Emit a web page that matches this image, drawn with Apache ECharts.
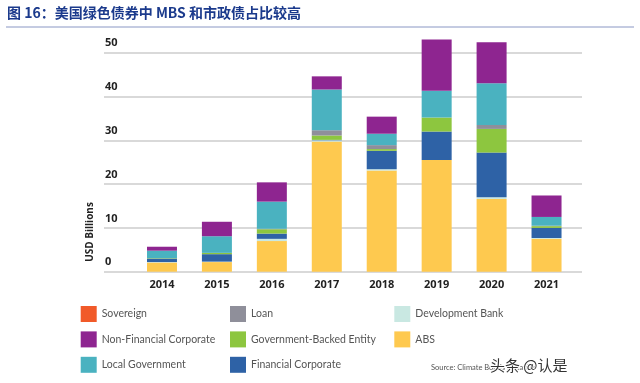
<!DOCTYPE html>
<html>
<head>
<meta charset="utf-8">
<script src="https://cdn.jsdelivr.net/npm/echarts@6/dist/echarts.min.js"></script>
<style>html,body{margin:0;padding:0;background:#fff}#c{width:640px;height:383px}</style>
</head>
<body>
<div id="c"></div>
<script>
var years = ['2014','2015','2016','2017','2018','2019','2020','2021'];
var yTicks = [0,10,20,30,40,50];
var abs      = [2.1, 2.2, 7.0, 29.7, 23.1, 25.5, 16.6, 7.5];
var devBank  = [0.1, 0.1, 0.5, 0.3, 0.3, 0.0, 0.4, 0.2];
var finCorp  = [0.8, 1.7, 1.2, 0.1, 4.2, 6.5, 10.2, 2.3];
var govBack  = [0.1, 0.3, 1.0, 1.0, 0.4, 3.2, 5.4, 0.4];
var loan     = [0.0, 0.0, 0.1, 1.2, 0.9, 0.0, 0.9, 0.1];
var localGov = [1.7, 3.8, 6.2, 9.3, 2.6, 6.1, 9.5, 2.0];
var nonFin   = [0.9, 3.3, 4.4, 3.0, 3.9, 11.7, 9.4, 4.9];
var sovereign= [0, 0, 0, 0, 0, 0, 0, 0];

var C = {
  'Sovereign':'#F15A29', 'Loan':'#8F8F9A', 'Development Bank':'#C9E8E2',
  'Non-Financial Corporate':'#8E2590', 'Government-Backed Entity':'#8DC63F', 'ABS':'#FEC94F',
  'Local Government':'#4AB2C0', 'Financial Corporate':'#2E62A6'
};
function s(name, data){
  return {name:name, type:'bar', stack:'t', data:data, barWidth:30, clip:false,
    xAxisIndex:0, yAxisIndex:0, itemStyle:{color:C[name]}, emphasis:{disabled:true}};
}
var legendText = {color:'#555', fontSize:10.5, fontFamily:'Lato, sans-serif'};
function lg(left, data){
  return {left:left, top:306, orient:'vertical', itemWidth:16, itemHeight:16, itemGap:9.4,
    icon:'rect', selectedMode:false, data:data, textStyle:legendText, padding:0};
}
var chart = echarts.init(document.getElementById('c'), null, {renderer:'canvas'});
chart.setOption({
  animation:false,
  title:{text:'图 16：美国绿色债券中 MBS 和市政债占比较高', left:7, top:6, padding:0,
    textStyle:{color:'#1B3A8C', fontSize:14, fontWeight:'bold', fontFamily:'Noto Sans CJK SC, sans-serif'}},
  grid:[
    {left:134.5, right:66, top:8.9, bottom:111.3},
    {left:104, right:58, top:52.7, bottom:111.3}
  ],
  xAxis:[
    {type:'category', gridIndex:0, data:years, axisLine:{show:false}, axisTick:{show:false},
      axisLabel:{margin:8, color:'#222', fontWeight:'bold', fontSize:11, fontFamily:'Open Sans, sans-serif'}},
    {type:'value', gridIndex:1, min:0, max:1, show:false}
  ],
  yAxis:[
    {type:'value', gridIndex:0, min:0, max:60, show:false},
    {type:'value', gridIndex:1, min:0, max:50, interval:10,
      axisLine:{show:false}, axisTick:{show:false},
      splitLine:{lineStyle:{color:'#cdcdcd', width:1.5}},
      axisLabel:{inside:true, margin:1, verticalAlign:'bottom', padding:[0,0,4,0],
        color:'#222', fontWeight:'bold', fontSize:11, fontFamily:'Open Sans, sans-serif',
        formatter:function(v){return yTicks.indexOf(v)>=0? String(v):'';}}}
  ],
  legend:[
    lg(80.7, ['Sovereign','Non-Financial Corporate','Local Government']),
    lg(230, ['Loan','Government-Backed Entity','Financial Corporate']),
    lg(394.3, ['Development Bank','ABS'])
  ],
  graphic:[
    {type:'line', shape:{x1:6, y1:27, x2:634, y2:27}, style:{stroke:'#8a97c4', lineWidth:1}},
    {type:'text', x:90, y:232, rotation:Math.PI/2,
      style:{text:'USD Billions', fill:'#222', font:'bold 10px "Open Sans", sans-serif', align:'center', verticalAlign:'middle'}},
    {type:'text', x:431, y:368, style:{text:'Source: Climate Bonds Initiative', fill:'#555', font:'7.5px Lato, sans-serif', verticalAlign:'middle'}},
    {type:'text', x:490, y:365, style:{text:'头条 @认是', fill:'#333', stroke:'#fff', lineWidth:2, font:'15px "Noto Sans CJK SC", sans-serif', verticalAlign:'middle'}}
  ],
  series:[
    s('ABS', abs), s('Development Bank', devBank), s('Financial Corporate', finCorp),
    s('Government-Backed Entity', govBack), s('Loan', loan), s('Local Government', localGov),
    s('Non-Financial Corporate', nonFin), s('Sovereign', sovereign)
  ]
});
</script>
</body>
</html>
